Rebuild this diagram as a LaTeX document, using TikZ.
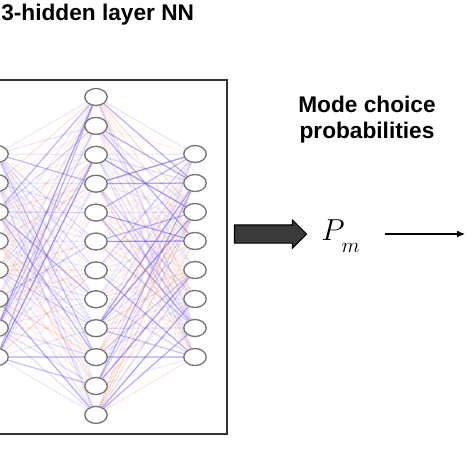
\documentclass[tikz,border=0pt]{standalone}
\usepackage{fontspec}
\newfontfamily\arialfont{Liberation Sans}
\usetikzlibrary{shapes.geometric,shapes.arrows,arrows.meta,backgrounds}
\definecolor{wpos}{RGB}{115,85,235}
\definecolor{wneg}{RGB}{240,165,120}
\definecolor{nodeline}{RGB}{115,115,115}
\definecolor{arrowfill}{RGB}{58,58,58}

\begin{document}
\begin{tikzpicture}[x=0.02cm,y=-0.02cm,
  neuron/.style={ellipse,draw=nodeline,fill=white,line width=0.75pt,
    minimum width=0.45cm,minimum height=0.34cm,inner sep=0pt},
  heading/.style={font=\arialfont\bfseries\fontsize{12.9}{14.8}\selectfont,
    inner sep=0pt,align=center},
  bigarrow/.style={single arrow,draw=black,fill=arrowfill,line width=0.6pt,
    minimum height=1.44cm,inner xsep=0pt,inner ysep=0.17cm,
    single arrow head extend=0.1cm,single arrow head indent=0pt},
  weight/.style={line width=0.7pt}]
\useasboundingbox (0,0) rectangle (474,474);

\node[heading,anchor=base west] (title) at (1,20) {3-hidden layer NN};
\draw[line width=0.8pt,draw=black!80] (-20,80) rectangle (227,434);

\foreach \j in {1,...,12}
  \node[neuron] (m\j) at (96,{97+(\j-1)*28.9}) {};
\foreach \i in {1,...,8} {
  \node[neuron] (l\i) at (-3,{154+(\i-1)*29}) {};
  \node[neuron] (r\i) at (195,{154+(\i-1)*29}) {};
}

\pgfmathsetseed{7}
\begin{scope}[on background layer]
\foreach \i in {1,...,8}
  \foreach \j in {1,...,12} {
    \pgfmathsetmacro{\wa}{rand}
    \ifdim\wa pt>-0.2pt \def\ca{wpos}\pgfmathsetmacro{\oa}{0.12+0.55*\wa*\wa}%
    \else\def\ca{wneg}\pgfmathsetmacro{\oa}{0.08+0.35*\wa*\wa}\fi
    \draw[weight,draw=\ca,opacity=\oa] (l\i) -- (m\j);
    \pgfmathsetmacro{\wb}{rand}
    \ifdim\wb pt>-0.2pt \def\cb{wpos}\pgfmathsetmacro{\ob}{0.12+0.55*\wb*\wb}%
    \else\def\cb{wneg}\pgfmathsetmacro{\ob}{0.08+0.35*\wb*\wb}\fi
    \draw[weight,draw=\cb,opacity=\ob] (m\j) -- (r\i);
  }
\end{scope}

\node[bigarrow] (arr) at (266,234) {};

\node[heading] (probs) at (367,120) {Mode choice\\probabilities};
\node[font=\fontsize{17}{19}\selectfont,inner sep=0pt] (pm) at (341,236)
  {$P_{\mkern1mu\raisebox{-4pt}{$\scriptstyle m$}}$};
\coordinate (tip) at (465,234);
\draw[line width=0.6pt,-{Latex[length=0.16cm,width=0.14cm]},shorten <=0.48cm]
  (pm.east |- tip) -- (tip);
\end{tikzpicture}
\end{document}
